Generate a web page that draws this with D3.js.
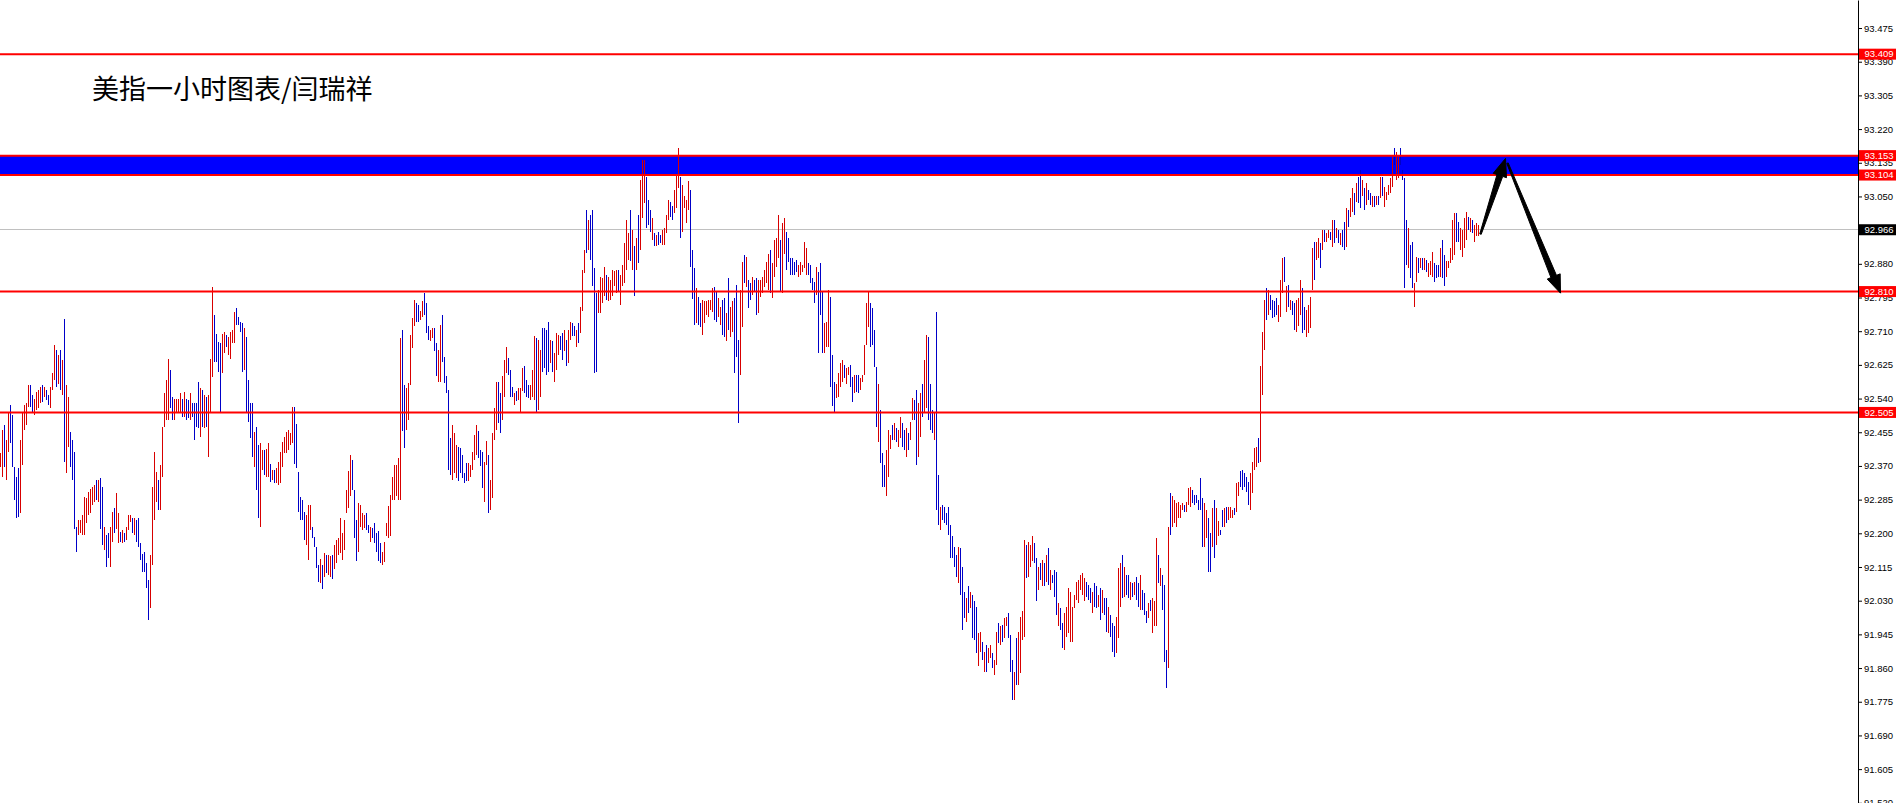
<!DOCTYPE html>
<html><head><meta charset="utf-8">
<script src="https://cdn.jsdelivr.net/npm/d3@7"></script>
<style>html,body{margin:0;padding:0;background:#fff;overflow:hidden}</style>
</head><body>
<svg id="chart" width="1898" height="803"></svg>
<script>
// ---- DATA (hourly bars) ----
const barHigh = [
92.402,92.461,92.473,92.435,92.507,92.524,92.498,92.368,92.343,92.364,
92.435,92.507,92.524,92.528,92.574,92.574,92.549,92.540,92.557,92.561,
92.570,92.574,92.570,92.561,92.549,92.570,92.604,92.675,92.662,92.650,
92.662,92.637,92.742,92.574,92.545,92.456,92.435,92.406,92.217,92.233,
92.233,92.246,92.292,92.288,92.305,92.313,92.318,92.322,92.334,92.334,
92.339,92.318,92.217,92.196,92.200,92.217,92.254,92.263,92.301,92.250,
92.204,92.208,92.200,92.217,92.246,92.246,92.238,92.238,92.233,92.238,
92.175,92.149,92.154,92.124,92.082,92.145,92.318,92.406,92.355,92.334,
92.372,92.469,92.553,92.587,92.641,92.612,92.545,92.540,92.540,92.540,
92.553,92.540,92.557,92.540,92.536,92.553,92.528,92.528,92.528,92.582,
92.566,92.561,92.549,92.545,92.549,92.641,92.822,92.751,92.704,92.683,
92.679,92.704,92.709,92.700,92.696,92.709,92.713,92.759,92.768,92.746,
92.734,92.730,92.717,92.696,92.587,92.528,92.528,92.456,92.469,92.423,
92.427,92.410,92.410,92.414,92.427,92.376,92.360,92.360,92.364,92.381,
92.406,92.431,92.444,92.456,92.461,92.452,92.519,92.519,92.477,92.355,
92.292,92.284,92.254,92.246,92.271,92.271,92.217,92.191,92.166,92.120,
92.135,92.120,92.150,92.145,92.146,92.142,92.146,92.171,92.184,92.188,
92.238,92.200,92.234,92.310,92.356,92.398,92.385,92.310,92.234,92.276,
92.272,92.251,92.247,92.251,92.221,92.217,92.213,92.226,92.200,92.205,
92.175,92.154,92.179,92.226,92.268,92.297,92.343,92.373,92.373,92.390,
92.692,92.713,92.575,92.566,92.579,92.701,92.743,92.789,92.781,92.777,
92.760,92.785,92.806,92.781,92.722,92.713,92.718,92.718,92.680,92.663,
92.726,92.751,92.646,92.596,92.562,92.440,92.474,92.453,92.423,92.419,
92.415,92.398,92.352,92.377,92.377,92.373,92.406,92.448,92.474,92.457,
92.411,92.406,92.381,92.432,92.398,92.335,92.453,92.516,92.583,92.583,
92.554,92.596,92.638,92.671,92.642,92.612,92.570,92.554,92.558,92.566,
92.566,92.617,92.621,92.587,92.575,92.575,92.612,92.697,92.692,92.688,
92.663,92.718,92.718,92.713,92.734,92.688,92.684,92.655,92.705,92.701,
92.697,92.705,92.713,92.688,92.713,92.734,92.730,92.722,92.713,92.730,
92.772,92.865,92.915,93.016,92.991,93.003,93.016,92.869,92.806,92.814,
92.848,92.844,92.873,92.852,92.848,92.840,92.865,92.861,92.865,92.865,
92.852,92.877,92.932,92.991,92.957,93.016,92.966,92.924,92.945,93.003,
93.092,93.142,93.142,93.100,93.041,93.016,92.995,92.957,92.953,92.961,
92.953,92.966,92.970,93.003,93.041,93.037,93.025,93.067,93.104,93.172,
93.100,93.079,93.050,93.041,93.088,93.067,92.915,92.869,92.818,92.797,
92.780,92.789,92.785,92.785,92.789,92.789,92.818,92.822,92.810,92.793,
92.772,92.789,92.793,92.755,92.843,92.772,92.785,92.793,92.827,92.688,
92.814,92.885,92.902,92.898,92.839,92.831,92.848,92.839,92.843,92.839,
92.839,92.848,92.864,92.885,92.906,92.915,92.881,92.940,92.944,93.003,
92.940,92.982,92.995,92.961,92.944,92.894,92.894,92.885,92.890,92.877,
92.885,92.877,92.936,92.919,92.881,92.877,92.843,92.835,92.873,92.860,
92.881,92.810,92.730,92.734,92.814,92.797,92.650,92.583,92.578,92.604,
92.629,92.637,92.625,92.616,92.620,92.625,92.595,92.599,92.599,92.599,
92.591,92.599,92.675,92.780,92.810,92.780,92.768,92.713,92.620,92.578,
92.511,92.402,92.372,92.410,92.461,92.448,92.473,92.478,92.465,92.461,
92.494,92.478,92.461,92.465,92.452,92.482,92.541,92.536,92.562,92.528,
92.553,92.578,92.637,92.700,92.696,92.578,92.511,92.507,92.759,92.347,
92.267,92.271,92.267,92.250,92.267,92.221,92.192,92.166,92.145,92.166,
92.162,92.116,92.053,92.036,92.066,92.053,92.045,92.028,92.015,91.948,
91.952,91.927,91.901,91.918,91.910,91.918,91.897,91.880,91.952,91.973,
91.965,91.969,91.986,91.990,91.998,91.944,91.880,91.851,91.935,91.952,
91.990,92.003,92.183,92.171,92.179,92.171,92.192,92.175,92.137,92.116,
92.124,92.133,92.124,92.145,92.162,92.108,92.095,92.108,92.103,92.024,
92.011,91.973,91.998,92.015,92.061,92.053,92.015,92.045,92.078,92.082,
92.095,92.099,92.087,92.078,92.070,92.061,92.053,92.074,92.066,92.045,
92.061,92.057,92.036,92.036,92.015,91.994,91.973,91.965,91.990,92.112,
92.124,92.145,92.116,92.095,92.095,92.078,92.074,92.078,92.091,92.074,
92.095,92.057,92.049,92.003,92.024,92.032,92.036,92.028,92.188,92.145,
92.112,92.095,92.070,91.906,92.217,92.301,92.293,92.284,92.276,92.280,
92.272,92.276,92.272,92.280,92.314,92.318,92.309,92.297,92.297,92.284,
92.339,92.288,92.276,92.259,92.238,92.200,92.263,92.284,92.263,92.230,
92.209,92.259,92.263,92.267,92.267,92.267,92.259,92.263,92.326,92.330,
92.356,92.360,92.351,92.343,92.330,92.351,92.381,92.415,92.419,92.440,
92.621,92.709,92.789,92.818,92.814,92.801,92.789,92.785,92.793,92.776,
92.839,92.894,92.898,92.823,92.827,92.789,92.785,92.780,92.789,92.793,
92.839,92.818,92.772,92.764,92.776,92.797,92.919,92.936,92.936,92.944,
92.932,92.965,92.965,92.957,92.965,92.961,92.991,92.991,92.970,92.965,
92.957,92.965,92.986,93.020,93.016,93.045,93.071,93.058,93.083,93.100,
93.117,93.092,93.071,93.083,93.066,93.058,93.050,93.050,93.050,93.050,
93.100,93.100,93.075,93.062,93.079,93.096,93.150,93.171,93.163,93.150,
93.171,93.117,93.096,92.991,92.970,92.928,92.936,92.831,92.898,92.894,
92.894,92.894,92.894,92.890,92.881,92.886,92.911,92.881,92.877,92.877,
92.919,92.940,92.902,92.886,92.886,92.919,92.991,93.007,93.007,92.986,
92.970,92.965,92.995,93.012,92.999,92.995,92.991,92.978,92.982,92.978
];
const barLow = [
92.368,92.343,92.368,92.334,92.406,92.427,92.368,92.284,92.238,92.242,
92.250,92.372,92.461,92.473,92.519,92.519,92.503,92.498,92.511,92.515,
92.528,92.532,92.545,92.536,92.524,92.515,92.561,92.587,92.570,92.578,
92.561,92.549,92.381,92.351,92.419,92.368,92.334,92.212,92.154,92.196,
92.200,92.196,92.196,92.225,92.246,92.250,92.271,92.280,92.284,92.280,
92.212,92.170,92.158,92.116,92.137,92.116,92.179,92.200,92.212,92.175,
92.179,92.175,92.179,92.183,92.208,92.229,92.200,92.196,92.179,92.166,
92.133,92.103,92.103,92.061,91.981,92.011,92.120,92.233,92.280,92.259,
92.259,92.343,92.469,92.486,92.486,92.515,92.486,92.486,92.503,92.507,
92.503,92.494,92.494,92.486,92.490,92.486,92.494,92.435,92.469,92.465,
92.444,92.469,92.465,92.469,92.393,92.507,92.595,92.633,92.633,92.608,
92.507,92.604,92.654,92.671,92.650,92.641,92.679,92.679,92.725,92.725,
92.709,92.608,92.612,92.507,92.482,92.440,92.393,92.368,92.309,92.238,
92.217,92.360,92.347,92.343,92.343,92.330,92.334,92.326,92.326,92.322,
92.326,92.368,92.402,92.402,92.410,92.423,92.427,92.376,92.364,92.254,
92.233,92.233,92.183,92.170,92.133,92.208,92.187,92.166,92.112,92.078,
92.075,92.060,92.090,92.100,92.095,92.090,92.085,92.110,92.125,92.146,
92.150,92.133,92.158,92.251,92.263,92.293,92.310,92.188,92.130,92.154,
92.217,92.209,92.213,92.209,92.200,92.179,92.188,92.175,92.154,92.130,
92.125,92.120,92.128,92.192,92.188,92.192,92.284,92.284,92.293,92.284,
92.284,92.457,92.415,92.461,92.486,92.575,92.667,92.722,92.734,92.734,
92.739,92.747,92.751,92.705,92.688,92.684,92.692,92.659,92.596,92.583,
92.583,92.633,92.579,92.554,92.360,92.348,92.335,92.352,92.339,92.331,
92.352,92.339,92.327,92.331,92.331,92.343,92.360,92.385,92.398,92.390,
92.369,92.314,92.280,92.373,92.251,92.259,92.289,92.436,92.461,92.478,
92.453,92.486,92.545,92.604,92.600,92.545,92.545,92.524,92.533,92.537,
92.507,92.558,92.554,92.545,92.541,92.537,92.545,92.537,92.507,92.512,
92.545,92.608,92.617,92.600,92.608,92.629,92.608,92.583,92.612,92.650,
92.663,92.638,92.659,92.621,92.629,92.688,92.697,92.697,92.671,92.680,
92.705,92.760,92.856,92.907,92.915,92.890,92.823,92.604,92.608,92.755,
92.755,92.781,92.798,92.789,92.785,92.789,92.798,92.823,92.806,92.810,
92.777,92.823,92.831,92.865,92.890,92.886,92.865,92.798,92.865,92.882,
92.915,92.995,93.033,92.970,92.978,92.961,92.940,92.924,92.924,92.928,
92.932,92.928,92.928,92.957,92.991,92.999,92.991,93.008,93.020,93.071,
92.945,92.961,93.020,92.982,93.016,92.873,92.790,92.726,92.730,92.726,
92.721,92.700,92.730,92.751,92.747,92.763,92.759,92.738,92.734,92.747,
92.726,92.700,92.696,92.684,92.713,92.696,92.709,92.604,92.646,92.478,
92.599,92.721,92.831,92.822,92.768,92.789,92.801,92.810,92.751,92.755,
92.797,92.806,92.822,92.831,92.814,92.806,92.793,92.848,92.873,92.894,
92.810,92.806,92.906,92.864,92.885,92.852,92.852,92.852,92.860,92.848,
92.852,92.860,92.869,92.852,92.852,92.831,92.814,92.780,92.801,92.654,
92.751,92.654,92.654,92.671,92.671,92.570,92.520,92.507,92.541,92.545,
92.570,92.583,92.591,92.578,92.599,92.570,92.532,92.553,92.557,92.553,
92.562,92.583,92.599,92.675,92.721,92.671,92.675,92.620,92.469,92.431,
92.377,92.318,92.318,92.293,92.343,92.414,92.436,92.436,92.431,92.419,
92.440,92.419,92.410,92.393,92.410,92.436,92.486,92.486,92.372,92.393,
92.444,92.494,92.503,92.516,92.486,92.461,92.452,92.436,92.259,92.221,
92.208,92.234,92.225,92.221,92.196,92.137,92.137,92.116,92.091,92.074,
92.044,91.956,91.986,91.977,91.998,92.011,91.935,91.931,91.897,91.864,
91.901,91.880,91.851,91.851,91.872,91.885,91.859,91.843,91.868,91.923,
91.918,91.927,91.935,91.965,91.935,91.851,91.780,91.780,91.817,91.817,
91.847,91.931,91.939,92.087,92.091,92.116,92.129,92.124,92.028,92.057,
92.082,92.066,92.066,92.078,92.070,92.057,92.074,92.040,91.994,91.965,
91.956,91.910,91.906,91.939,91.948,91.927,91.927,92.011,92.032,92.024,
92.057,92.045,92.028,92.040,92.032,92.024,91.998,92.015,92.011,92.015,
91.981,91.998,91.994,91.952,91.948,91.939,91.901,91.889,91.897,91.935,
92.015,92.036,92.040,92.045,92.036,92.032,92.040,92.045,92.032,92.015,
92.007,92.007,91.994,91.973,91.986,92.003,91.948,91.965,91.965,92.074,
92.066,92.007,91.876,91.809,91.859,92.196,92.217,92.225,92.217,92.238,
92.238,92.259,92.255,92.255,92.272,92.267,92.276,92.272,92.276,92.259,
92.259,92.166,92.166,92.188,92.103,92.103,92.166,92.137,92.171,92.192,
92.196,92.217,92.217,92.225,92.234,92.238,92.238,92.246,92.255,92.293,
92.318,92.309,92.318,92.305,92.272,92.259,92.301,92.360,92.368,92.377,
92.381,92.549,92.663,92.738,92.751,92.764,92.743,92.747,92.751,92.734,
92.747,92.806,92.835,92.759,92.772,92.764,92.751,92.713,92.709,92.722,
92.751,92.705,92.713,92.696,92.705,92.717,92.814,92.839,92.890,92.894,
92.869,92.915,92.936,92.936,92.944,92.940,92.923,92.932,92.944,92.932,
92.928,92.923,92.915,92.923,92.974,92.999,93.012,93.003,93.037,93.033,
93.020,93.050,93.016,93.029,93.041,93.029,93.024,93.024,93.029,93.029,
93.045,93.050,93.024,93.041,93.054,93.058,93.075,93.130,93.092,93.096,
93.130,93.092,92.818,92.877,92.869,92.843,92.818,92.772,92.835,92.856,
92.869,92.865,92.865,92.860,92.848,92.852,92.848,92.835,92.843,92.848,
92.848,92.843,92.823,92.848,92.869,92.881,92.890,92.902,92.936,92.936,
92.915,92.898,92.919,92.940,92.965,92.961,92.957,92.936,92.949,92.949
];
// r = up bar (red), b = down bar (blue)
const barDir = (
"rrbrrbbbbb"+"rrrrrbbrrr"+"rbrbbrrrbr"+"brbrrbbbbr"+"rrrrrrrrbr"+
"bbrbbrrbrr"+"brbrrrbrbb"+"bbbbbrrrrb"+"rrrrrbbrrr"+"rbrbbrbbbb"+
"rbrbrrrbbb"+"brrbrrrrbb"+"bbrbbbbrbb"+"rrbrrbrbrr"+"rrrrrrrbbb"+
"bbbrrrbbbb"+"rbrbrrbrrr"+"rrrrrrbbbr"+"rrrbbrbbbb"+"brrrrrrrrr"+
"rbbrrrrrbb"+"rrbbbrrbbr"+"rbbbbbrrrb"+"bbbbrrrrrb"+"bbrrbrrrrb"+
"brrrbbbrbr"+"rrbbbrrrbr"+"rbbbbrbrrr"+"bbrbrrbbrb"+"rrrbrbbbbr"+
"rrrbrrrrrb"+"rrrrrbrbrb"+"rrrbbbrbrb"+"brrrrbbrrr"+"brrrrbbbrb"+
"brrrrrrbbr"+"rbbrbrrbbb"+"rrbrbbrbbr"+"rrrrrbrrrr"+"brrbbbbbbr"+
"rrrrbbbbrb"+"bbrrrbbbrr"+"rrbrrbbrbb"+"rrrrrbbbbr"+"bbbrrrbrbr"+
"rbbrbrrbbr"+"rbrrbbbrbb"+"rbbbbbbbbr"+"bbbrbrbbbr"+"rbrbrrbrrb"+
"rbrrbbbrbr"+"rrrbrrrbbr"+"brbrbrbbbr"+"bbrrrrrrrr"+"rrrbbbrbbr"+
"brbbrbbbrr"+"rbrbbrbrbb"+"rbbbrbrrrb"+"rbbbrbrrrr"+"rrbrrrbbbb"+
"bbrrbbrbrr"+"bbrbrrrbrr"+"bbbbbrrrrb"+"rrrbrbbbbr"+"rrbrbrbbrr"+
"rbbrrrrbrr"+"brbrrbrbrb"+"rbbrbrrbrb"+"brbrbbrbrb"+"rbrrrrrbrr"+
"bbbbrbbrrb"+"rbrbrrrbbb"+"rbbrrrrrbb"+"rrrrbrbrrr").split("");

const tickLabels = ["93.475","93.390","93.305","93.220","93.135","93.050","92.965",
  "92.880","92.795","92.710","92.625","92.540","92.455","92.370","92.285","92.200",
  "92.115","92.030","91.945","91.860","91.775","91.690","91.605","91.520"];
const priceDomain = [91.5195, 93.5457];   // visible price range of the window
const barSlots = 930;                      // bar slots across the window (incl. right shift)
const levelLines = [93.409, 92.810, 92.505];
const zoneBand = [93.104, 93.153];
const lastPrice = 92.966;
const redTags = [93.409, 93.153, 93.104, 92.810, 92.505];
const titleText = "美指一小时图表/闫瑞祥";
// arrows: [fromBar, fromPrice, toBar, toPrice]
const arrows = [[740, 92.955, 752.5, 93.146], [753.5, 93.134, 780, 92.806]];

// ---- DRAW ----
const W = 1898, H = 803, axisX = 1858;
const svg = d3.select("#chart");
const x = d3.scaleLinear().domain([0, barSlots - 1]).range([0.5, 2 * (barSlots - 1) + 0.5]);
const y = d3.scaleLinear().domain(priceDomain).range([H, 0]);
const bars = barHigh.map((h, i) => ({i, h, l: barLow[i], up: barDir[i] === "r"}));

svg.append("rect").attr("width", W).attr("height", H).attr("fill", "#fff");

// zone band fill
svg.append("rect")
  .attr("x", 0).attr("width", axisX)
  .attr("y", y(zoneBand[1])).attr("height", y(zoneBand[0]) - y(zoneBand[1]))
  .attr("fill", "#0000ff");

// last price line
svg.append("line")
  .attr("x1", 0).attr("x2", axisX)
  .attr("y1", Math.floor(y(lastPrice)) + 0.5).attr("y2", Math.floor(y(lastPrice)) + 0.5)
  .attr("stroke", "#c0c0c0").attr("stroke-width", 1);

// bars
svg.append("g").attr("shape-rendering", "crispEdges")
  .selectAll("line").data(bars).join("line")
  .attr("x1", d => Math.floor(x(d.i)) + 0.5)
  .attr("x2", d => Math.floor(x(d.i)) + 0.5)
  .attr("y1", d => y(d.h))
  .attr("y2", d => Math.max(y(d.l), y(d.h) + 1))
  .attr("stroke", d => d.up ? "#d80000" : "#0000c8")
  .attr("stroke-width", 1);

// horizontal level lines + band borders
svg.append("g").selectAll("line").data(levelLines.concat(zoneBand)).join("line")
  .attr("x1", 0).attr("x2", axisX)
  .attr("y1", d => y(d)).attr("y2", d => y(d))
  .attr("stroke", "#ff0000").attr("stroke-width", 2);

// arrows
function arrowPoly(a) {
  const x0 = x(a[0]), y0 = y(a[1]), x1 = x(a[2]), y1 = y(a[3]);
  const len = Math.hypot(x1 - x0, y1 - y0);
  const ux = (x1 - x0) / len, uy = (y1 - y0) / len, nx = -uy, ny = ux;
  const headL = 18, headW = 14, shaftW = 6, tailW = 1.5;
  const bx = x1 - ux * headL, by = y1 - uy * headL;
  return [
    [x0 + nx * tailW / 2, y0 + ny * tailW / 2],
    [bx + nx * shaftW / 2, by + ny * shaftW / 2],
    [bx + nx * headW / 2, by + ny * headW / 2],
    [x1, y1],
    [bx - nx * headW / 2, by - ny * headW / 2],
    [bx - nx * shaftW / 2, by - ny * shaftW / 2],
    [x0 - nx * tailW / 2, y0 - ny * tailW / 2]
  ];
}
svg.append("g").selectAll("path").data(arrows).join("path")
  .attr("d", a => d3.line()(arrowPoly(a)) + "Z")
  .attr("fill", "#000").attr("stroke", "#000").attr("stroke-width", 1)
  .attr("stroke-linejoin", "round");

// right price axis
svg.append("rect").attr("x", axisX + 1).attr("y", 0).attr("width", W - axisX).attr("height", H).attr("fill", "#fff");
const axis = d3.axisRight(y)
  .tickValues(tickLabels.map(Number))
  .tickFormat(d3.format(".3f"))
  .tickSize(4).tickPadding(2).tickSizeOuter(0);
const ag = svg.append("g").attr("transform", `translate(${axisX},0)`).call(axis);
ag.select(".domain").attr("stroke", "#000");
ag.selectAll(".tick line").attr("stroke", "#000");
ag.selectAll(".tick text").attr("fill", "#000")
  .style("font-family", "'Liberation Sans', Arial, sans-serif").style("font-size", "9.5px");

// price tags
const tags = redTags.map(v => ({v, c: "#ff0000"})).concat([{v: lastPrice, c: "#000"}]);
const tg = svg.append("g").selectAll("g").data(tags).join("g")
  .attr("transform", d => `translate(${axisX + 1},${y(d.v)})`);
tg.append("rect").attr("x", 0).attr("y", -5.5).attr("width", 37).attr("height", 11).attr("fill", d => d.c);
tg.append("text").attr("x", 5.5).attr("dy", "0.34em")
  .attr("fill", "#fff")
  .style("font-family", "'Liberation Sans', Arial, sans-serif").style("font-size", "9.5px")
  .text(d => d3.format(".3f")(d.v));

// title
svg.append("text").attr("x", 92).attr("y", 99)
  .style("font-family", "'Noto Sans CJK SC', sans-serif")
  .style("font-size", "27px")
  .attr("fill", "#000").text(titleText);
</script>
</body></html>
